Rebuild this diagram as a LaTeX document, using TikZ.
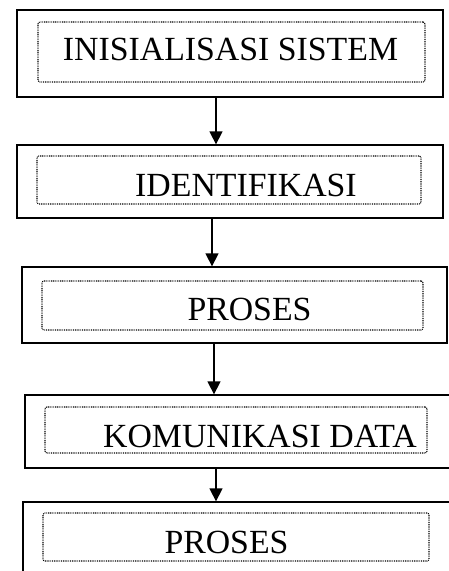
\documentclass[tikz,border=0pt]{standalone}
\usepackage{fontspec}
\setmainfont{Liberation Serif}
\usetikzlibrary{arrows.meta,calc}
\begin{document}
\begin{tikzpicture}[x=1pt,y=-1pt,
  outer/.style={draw,line width=1.3pt,rectangle,inner sep=0pt},
  inner/.style={draw,dash pattern=on 0.9pt off 0.9pt,line width=1.1pt,rounded corners=2pt,rectangle,inner sep=0pt},
  lbl/.style={anchor=base,inner sep=0pt,font=\fontsize{33.8}{40}\selectfont},
  arr/.style={line width=1.3pt,-{Triangle[length=13pt,width=13pt]}}]
\useasboundingbox (0,0) rectangle (449,571);
\clip (0,0) rectangle (449,571);

% outer frames
\node[outer,minimum width=426pt,minimum height=87pt] (b1) at (230,53.5) {};
\node[outer,minimum width=426pt,minimum height=73pt] (b2) at (230,181.5) {};
\node[outer,minimum width=425pt,minimum height=76pt] (b3) at (234.5,305) {};
\node[outer,minimum width=450pt,minimum height=73pt] (b4) at (250,431.5) {};
\node[outer,minimum width=450pt,minimum height=90pt] (b5) at (248,547) {};

% dotted inner frames
\node[inner,minimum width=387pt,minimum height=60pt] (i1) at (231.5,52) {};
\node[inner,minimum width=384pt,minimum height=48pt] (i2) at (229,180) {};
\node[inner,minimum width=381pt,minimum height=49pt] (i3) at (232.5,305.5) {};
\node[inner,minimum width=382pt,minimum height=46pt] (i4) at (236,430) {};
\node[inner,minimum width=386pt,minimum height=48pt] (i5) at (236,537) {};

% labels
\node[lbl] (t1) at (230.5,60) {INISIALISASI SISTEM};
\node[lbl] (t2) at (246,196) {IDENTIFIKASI};
\node[lbl] (t3) at (249.5,320) {PROSES};
\node[lbl] (t4) at (260,447) {KOMUNIKASI DATA};
\node[lbl] (t5) at (226.5,553) {PROSES};

% arrow columns
\coordinate (c1) at (216,0);
\coordinate (c2) at (212,0);
\coordinate (c3) at (214,0);
\coordinate (c4) at (216,0);

\draw[arr] (b1.south -| c1) -- (b2.north -| c1);
\draw[arr] (b2.south -| c2) -- (b3.north -| c2);
\draw[arr] (b3.south -| c3) -- (b4.north -| c3);
\draw[arr] (b4.south -| c4) -- (b5.north -| c4);
\end{tikzpicture}
\end{document}
